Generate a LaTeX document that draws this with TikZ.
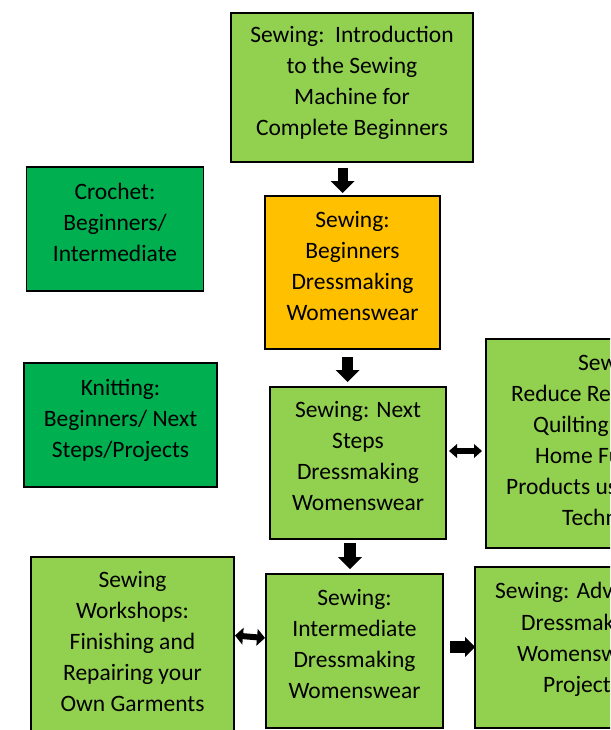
\documentclass[tikz,border=0pt]{standalone}
\usepackage{fontspec}
\setmainfont{Carlito}
\usetikzlibrary{arrows.meta}
\definecolor{lgreen}{HTML}{92D050}
\definecolor{dgreen}{HTML}{00B050}
\definecolor{orangey}{HTML}{FFC000}
\newcommand\boxfont{\fontsize{23.5}{31}\selectfont}
\newcommand\mystrut{\rule[-13.5pt]{0pt}{31pt}}
\tikzset{
  box/.style={draw=black, line width=1.8pt, outer sep=0pt, inner sep=0pt,
    align=center, font=\boxfont, text=black,
    execute at begin node=\mystrut, execute at end node=\mystrut},
  lg/.style={box, fill=lgreen},
  dg/.style={box, fill=dgreen},
  og/.style={box, fill=orangey},
  frag/.style={anchor=base west, inner sep=0pt, font=\boxfont, text=black},
  downarrow/.style={draw=black, -{Triangle[width=24pt,length=12pt,line width=0pt]}},
  dblarrow/.style={draw=black, line width=6pt,
    {Triangle[width=#1,length=8pt,line width=0pt]}-{Triangle[width=#1,length=8pt,line width=0pt]}},
}
\begin{document}
\begin{tikzpicture}[x=1pt,y=-1pt]
\useasboundingbox (0,0) rectangle (610,730);
\clip (0,0) rectangle (610,730);
\fill[white] (0,0) rectangle (610,730);

\node[lg, minimum width=242pt, minimum height=149pt] (intro) at (352,87.5)
  {Sewing:\ \ Introduction\\to the Sewing\\Machine for\\Complete Beginners};
\node[dg, minimum width=177pt, minimum height=124pt] (crochet) at (115,229)
  {Crochet:\\Beginners/\\Intermediate};
\node[og, minimum width=175pt, minimum height=153pt] (begin) at (352.5,272.5)
  {Sewing:\\Beginners\\Dressmaking\\Womenswear};
\node[dg, minimum width=193pt, minimum height=124pt] (knit) at (120.5,425)
  {Knitting:\\Beginners/ Next\\Steps/Projects};
\node[lg, minimum width=176pt, minimum height=152pt] (next) at (358,463)
  {Sewing: Next\\Steps\\Dressmaking\\Womenswear};
\node[lg, minimum width=240pt, minimum height=209pt] (reduce) at (606,443.5) {};
\node[lg, minimum width=203pt, minimum height=183pt] (work) at (132.5,648.5)
  {Sewing\\Workshops:\\Finishing and\\Repairing your\\Own Garments};
\node[lg, minimum width=177pt, minimum height=154pt] (inter) at (354.5,651)
  {Sewing:\\Intermediate\\Dressmaking\\Womenswear};
\node[lg, minimum width=240pt, minimum height=161pt] (adv) at (595,647.5) {};

% visible parts of the cut-off texts
\node[frag] (r1) at (578,370) {Sew};
\node[frag] (r2) at (511,401) {Reduce Re};
\node[frag] (r3) at (533,432) {Quilting};
\node[frag] (r4) at (535,463) {Home Fu};
\node[frag] (r5) at (506,494) {Products us};
\node[frag] (r6) at (562,525) {Techn};
\node[frag] (a1) at (495,598) {Sewing: Adv};
\node[frag] (a2) at (521,630) {Dressmak};
\node[frag] (a3) at (517,661) {Womensw};
\node[frag] (a4) at (543,692) {Project};

% block arrows
\draw[downarrow, line width=10pt] ([xshift=-9.5pt,yshift=-6pt]intro.south) -- ([xshift=-10pt,yshift=3pt]begin.north);
\draw[downarrow, line width=11pt] ([xshift=-5pt,yshift=-8pt]begin.south) -- ([xshift=-10.5pt,yshift=5pt]next.north);
\draw[downarrow, line width=12pt] ([xshift=-8pt,yshift=-4pt]next.south) -- ([xshift=-4.5pt,yshift=5pt]inter.north);
\draw[dblarrow=14pt] ([xshift=3pt,yshift=12pt]next.east) -- ([xshift=-4pt,yshift=-7.5pt]reduce.west);
\draw[dblarrow=17pt] ([xshift=1pt,yshift=13pt]work.east) -- ([xshift=-1pt,yshift=13pt]inter.west);
\draw[draw=black, line width=12pt, -{Triangle[width=20pt,length=10pt,line width=0pt]}]
  ([xshift=7pt,yshift=4pt]inter.east) -- ([yshift=0.5pt]adv.west);
\end{tikzpicture}
\end{document}
